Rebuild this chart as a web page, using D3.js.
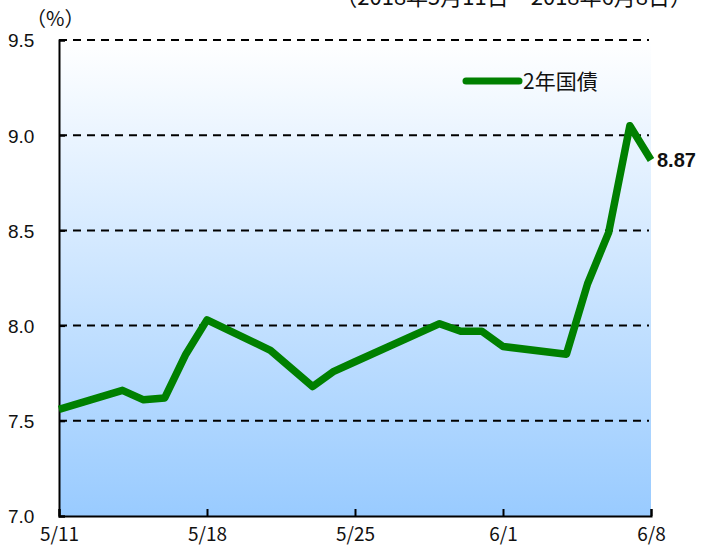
<!DOCTYPE html>
<html>
<head>
<meta charset="utf-8">
<script src="https://cdn.jsdelivr.net/npm/d3@7"></script>
<style>
  body { margin: 0; background: #fff; }
  svg { display: block; }
</style>
</head>
<body>
<svg id="vis" width="712" height="548"></svg>
<script>
// 2-year yield, 2018/5/11 - 2018/6/8
let dates = ["2018-05-11", "2018-05-14", "2018-05-15", "2018-05-16", "2018-05-17", "2018-05-18",
    "2018-05-21", "2018-05-23", "2018-05-24", "2018-05-25", "2018-05-29", "2018-05-30",
    "2018-05-31", "2018-06-01", "2018-06-04", "2018-06-05", "2018-06-06", "2018-06-07", "2018-06-08"];
let yields = [7.56, 7.66, 7.61, 7.62, 7.85, 8.03,
    7.87, 7.68, 7.76, 7.81, 8.01, 7.97,
    7.97, 7.89, 7.85, 8.22, 8.49, 9.05, 8.87];
let xTicks = ["2018-05-11", "2018-05-18", "2018-05-25", "2018-06-01", "2018-06-08"];
let xTickLabels = ["5/11", "5/18", "5/25", "6/1", "6/8"];
let yTicks = [7.0, 7.5, 8.0, 8.5, 9.0, 9.5];
let seriesName = "2年国債";
let title = "（2018年5月11日～2018年6月8日）";

let svg = d3.select("#vis");
let parse = d3.timeParse("%Y-%m-%d");

let plotLeft = 59, plotRight = 651, plotTop = 40, plotBottom = 516;

let x = d3.scaleTime()
    .domain([parse(dates[0]), parse(dates[dates.length - 1])])
    .range([plotLeft, plotRight]);
let y = d3.scaleLinear()
    .domain([7.0, 9.5])
    .range([plotBottom, plotTop]);

let data = dates.map((d, i) => [parse(d), yields[i]]);

// background gradient
let grad = svg.append("defs").append("linearGradient")
    .attr("id", "bg")
    .attr("x1", 0).attr("y1", 0).attr("x2", 0).attr("y2", 1);
grad.append("stop").attr("offset", "0%").attr("stop-color", "#ffffff");
grad.append("stop").attr("offset", "100%").attr("stop-color", "#99cbff");

svg.append("rect")
    .attr("x", plotLeft)
    .attr("y", plotTop)
    .attr("width", plotRight - plotLeft)
    .attr("height", plotBottom - plotTop)
    .attr("fill", "url(#bg)");

// dashed grid
svg.selectAll(".grid")
    .data(yTicks.filter(v => v > 7.0))
    .enter()
    .append("line")
    .attr("class", "grid")
    .attr("x1", plotLeft)
    .attr("x2", plotRight - 2)
    .attr("y1", d => y(d))
    .attr("y2", d => y(d))
    .attr("stroke", "#000")
    .attr("stroke-width", 2)
    .attr("stroke-dasharray", "8,6");

// y axis
let yAxis = d3.axisLeft(y)
    .tickValues(yTicks)
    .tickFormat(d3.format(".1f"))
    .tickSize(-6)
    .tickPadding(24);
let gy = svg.append("g")
    .attr("transform", "translate(" + plotLeft + ",0)")
    .call(yAxis);
gy.select(".domain").attr("stroke", "#000").attr("stroke-width", 2);
gy.selectAll(".tick line").attr("stroke", "#000").attr("stroke-width", 2);
gy.selectAll("text")
    .attr("font-family", "Liberation Sans, Arial, sans-serif")
    .attr("font-size", "19px")
    .attr("fill", "#111")
    .attr("text-anchor", "start")
    .attr("x", -51)
    .attr("dy", "0.36em");

// x axis
let xAxis = d3.axisBottom(x)
    .tickValues(xTicks.map(parse))
    .tickFormat((d, i) => xTickLabels[i])
    .tickSize(-7)
    .tickPadding(12);
let gx = svg.append("g")
    .attr("transform", "translate(0," + plotBottom + ")")
    .call(xAxis);
gx.select(".domain").attr("stroke", "#000").attr("stroke-width", 2);
gx.selectAll(".tick line").attr("stroke", "#000").attr("stroke-width", 2);
gx.selectAll("text")
    .attr("font-family", "Noto Sans CJK JP, sans-serif")
    .attr("font-size", "19px")
    .attr("fill", "#111");

// line
let line = d3.line()
    .x(d => x(d[0]))
    .y(d => y(d[1]));

svg.append("path")
    .attr("d", line(data))
    .attr("fill", "none")
    .attr("stroke", "#008000")
    .attr("stroke-width", 7.5)
    .attr("stroke-linejoin", "round");

// last value label
let last = data[data.length - 1];
svg.append("text")
    .attr("x", x(last[0]) + 6)
    .attr("y", y(last[1]))
    .attr("dy", "0.36em")
    .attr("font-family", "Liberation Sans, Arial, sans-serif")
    .attr("font-weight", "bold")
    .attr("font-size", "20px")
    .attr("fill", "#111")
    .text(d3.format(".2f")(last[1]));

// legend
svg.append("line")
    .attr("x1", 466).attr("x2", 519)
    .attr("y1", 81).attr("y2", 81)
    .attr("stroke", "#008000")
    .attr("stroke-width", 7)
    .attr("stroke-linecap", "round");
svg.append("text")
    .attr("x", 523)
    .attr("y", 89)
    .attr("font-family", "Noto Sans CJK JP, sans-serif")
    .attr("font-size", "21px")
    .attr("fill", "#111")
    .text(seriesName);

// unit + title
svg.append("text")
    .attr("x", 26)
    .attr("y", 26)
    .attr("font-family", "Noto Sans CJK JP, sans-serif")
    .attr("font-size", "20px")
    .attr("fill", "#111")
    .text("（%）");

svg.append("text")
    .attr("x", 692)
    .attr("y", 5)
    .attr("text-anchor", "end")
    .attr("font-family", "Noto Sans CJK JP, sans-serif")
    .attr("font-size", "22px")
    .attr("fill", "#111")
    .text(title);
</script>
</body>
</html>
